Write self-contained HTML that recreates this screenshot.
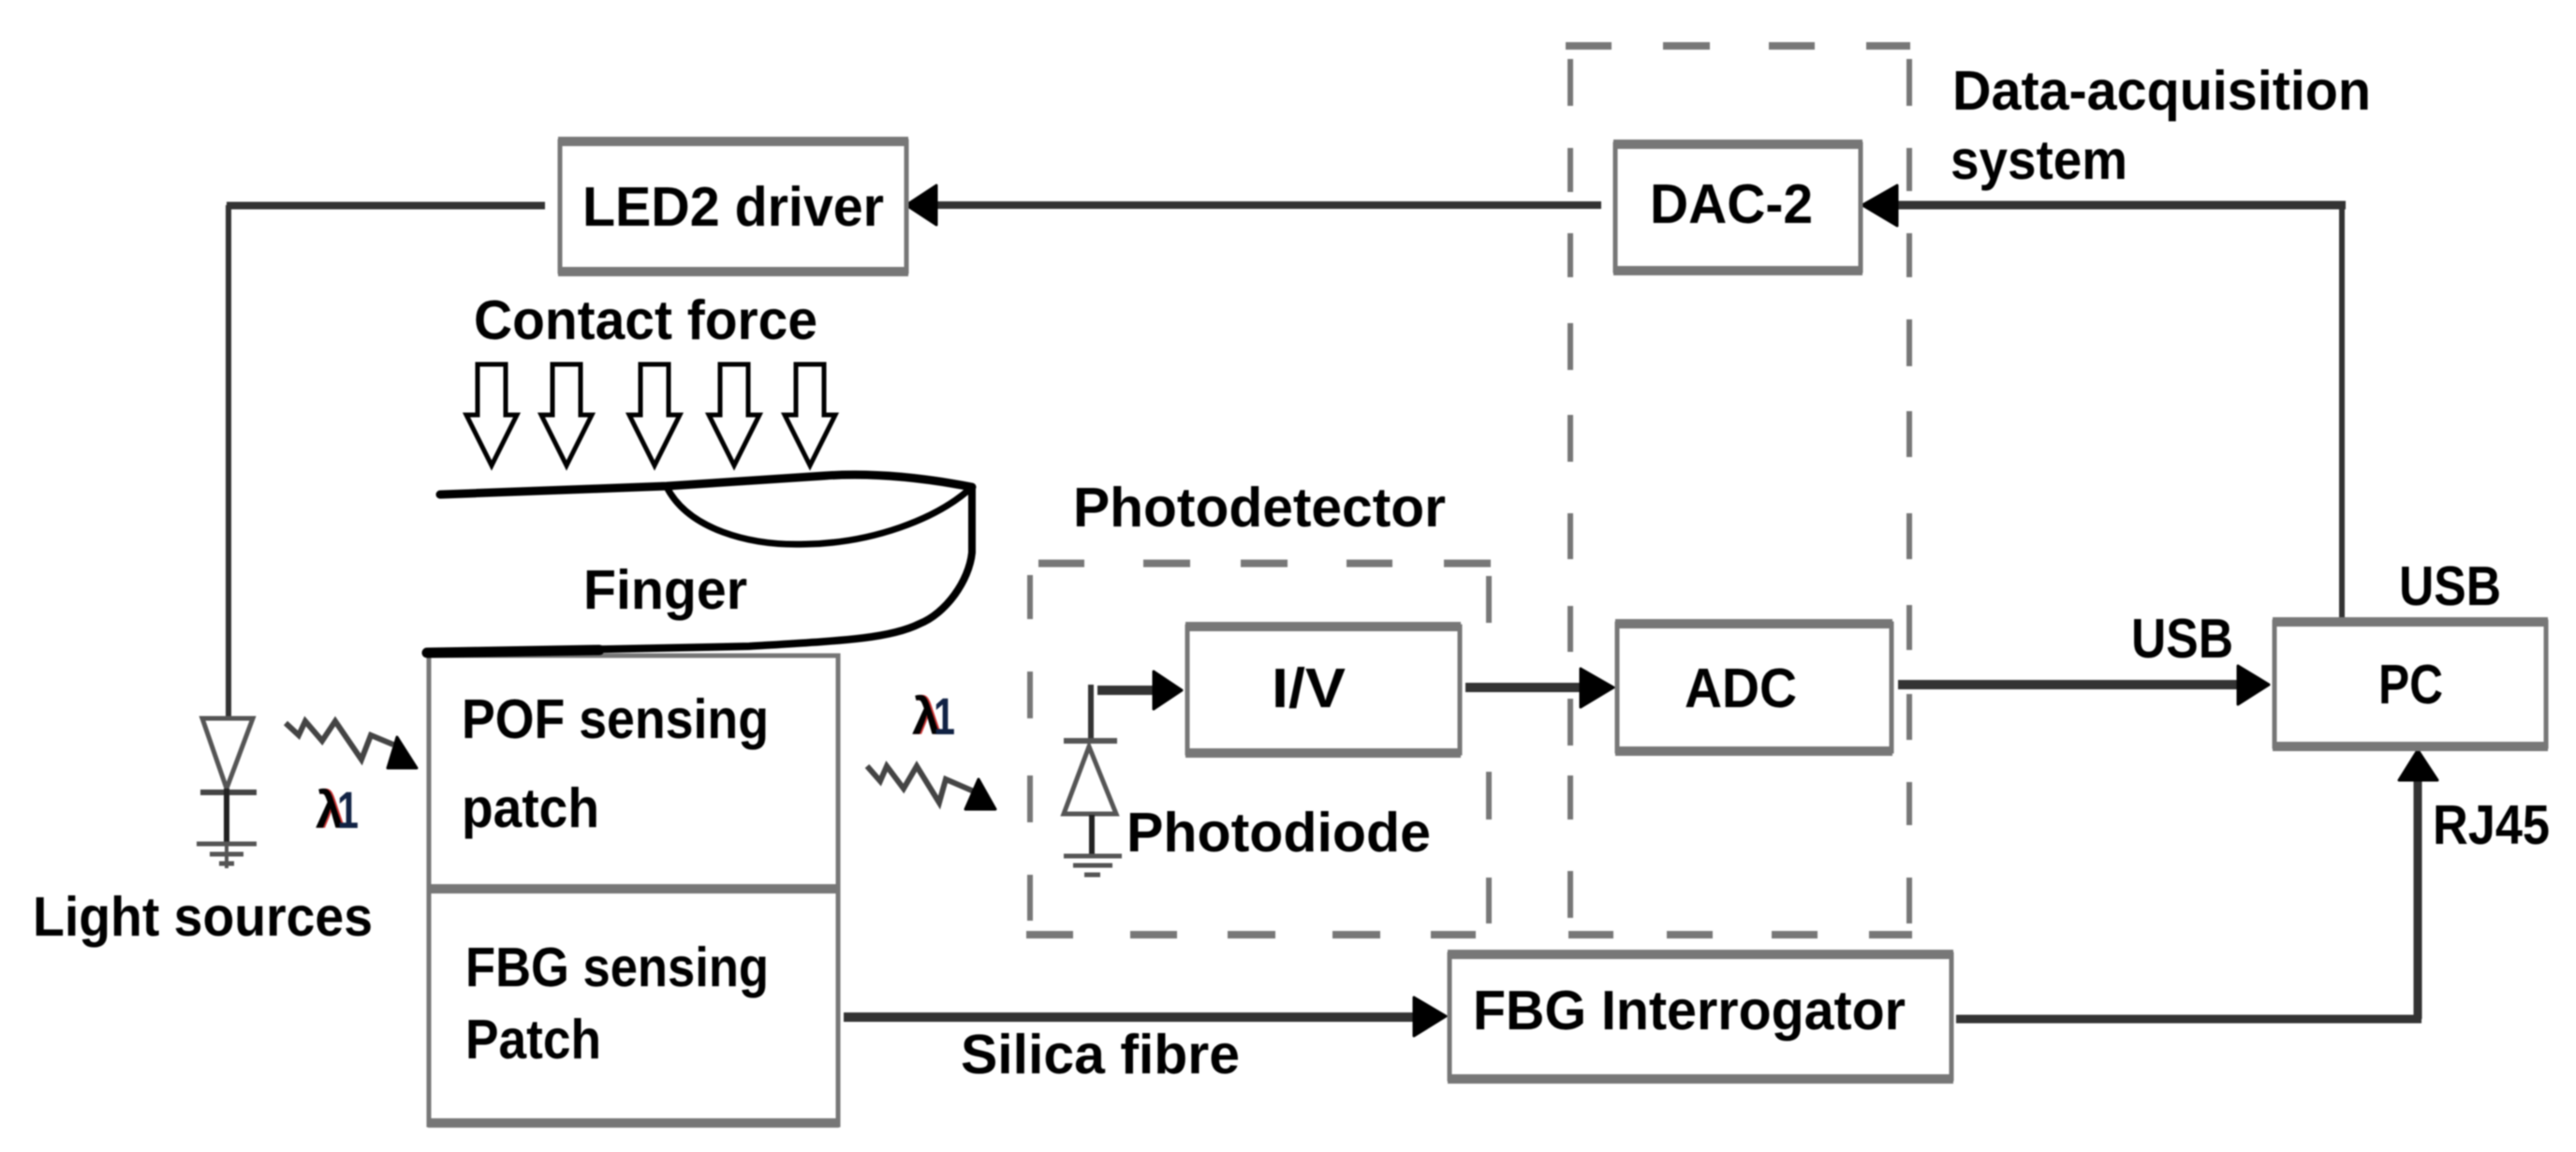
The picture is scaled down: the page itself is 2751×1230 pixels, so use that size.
<!DOCTYPE html>
<html><head><meta charset="utf-8">
<style>html,body{margin:0;padding:0;background:#fff}svg{display:block;filter:blur(.8px)}
text{font-family:"Liberation Sans",sans-serif;font-weight:700;font-size:59px;fill:#000}
.box{fill:#fff;stroke:#777;stroke-width:5}
.h{stroke:#777;stroke-width:10;fill:none}
.d{stroke:#777;fill:none}
.l{stroke:#333;fill:none}
.k{stroke:#000;fill:none}
.a{fill:#000;stroke:#000;stroke-width:3;stroke-linejoin:round}
</style></head><body>
<svg xmlns="http://www.w3.org/2000/svg" width="2751" height="1230" viewBox="0 0 2751 1230">
<rect width="2751" height="1230" fill="#fff"/>
<!-- dashed outer -->
<g class="d" stroke-width="8">
<path d="M1672 49H1721M1776 49H1826M1889 49H1938M1993 49H2040"/>
<path d="M1675 998H1723M1780 998H1829M1892 998H1941M1996 998H2042"/>
<path d="M1109 601.500H1158M1221 601.500H1271M1325 601.500H1375M1438 601.500H1487M1542 601.500H1592"/>
<path d="M1096 998H1146M1207 998H1257M1311 998H1362M1423 998H1474M1528 998H1576"/>
</g>
<g class="d" stroke-width="6">
<path d="M1677 63V113M1677 158V205M1677 249V296M1677 345V395M1677 443V493M1677 548V597M1677 647V696M1677 746V796M1677 828V875M1677 930V980"/>
<path d="M2039 63V113M2039 158V204M2039 249V296M2039 341V391M2039 439V488M2039 548V597M2039 646V694M2039 741V790M2039 835V881M2039 937V986"/>
<path d="M1100 614V661M1100 717V767M1100 828V878M1100 934V983"/>
<path d="M1590 615V665M1590 824V875M1590 937V986"/>
</g>
<!-- connectors -->
<g class="l">
<path d="M242 219.500H582" stroke-width="8"/>
<path d="M244 219V766" stroke-width="6"/>
<path d="M1000 219H1710" stroke-width="8"/>
<path d="M2026 219H2505" stroke-width="9"/>
<path d="M2501 219V662" stroke-width="6"/>
<path d="M1565 734H1690" stroke-width="10"/>
<path d="M2027 731H2395" stroke-width="10"/>
<path d="M901 1086H1515" stroke-width="10"/>
<path d="M2089 1088H2586" stroke-width="9"/>
<path d="M2582 1088V830" stroke-width="9"/>
<path d="M1165 792V731" stroke-width="6"/>
<path d="M1172 737H1235" stroke-width="10"/>
</g>
<g class="a">
<path d="M968 219L1000 198V240Z"/>
<path d="M1989 219L2026 198V241Z"/>
<path d="M1262 737L1232 717V757Z"/>
<path d="M1723 734L1688 714V755Z"/>
<path d="M2423 731L2390 711V752Z"/>
<path d="M1544 1085L1510 1065V1106Z"/>
<path d="M2582 801L2562 833H2603Z"/>
</g>
<!-- boxes -->
<rect class="box" x="598" y="151" width="370" height="139"/>
<rect class="box" x="1725" y="154" width="262" height="135"/>
<rect class="box" x="1268" y="669" width="291" height="135"/>
<rect class="box" x="1727" y="666" width="293" height="136"/>
<rect class="box" x="2429" y="664" width="290" height="133"/>
<rect class="box" x="1548" y="1019" width="536" height="133"/>
<rect class="box" x="458" y="700" width="437" height="250"/>
<rect class="box" x="458" y="950" width="437" height="251"/>
<path class="h" d="M596 151H970M596 290H970M1723 154H1989M1723 289H1989M1266 669H1560M1266 804H1560M1725 666H2021M1725 802H2021M2427 664H2721M2427 797H2721M1546 1019H2086M1546 1152H2086M457 949H896M457 1199H896" />
<!-- hollow arrows -->
<g fill="#fff" stroke="#000" stroke-width="5">
<path d="M510 389H540V443H552L525 497L498 443H510Z"/>
<path d="M590 389H620V443H632L605 497L578 443H590Z"/>
<path d="M684 389H714V443H726L699 497L672 443H684Z"/>
<path d="M769 389H799V443H811L784 497L757 443H769Z"/>
<path d="M850 389H880V443H892L865 497L838 443H850Z"/>
</g>
<!-- finger -->
<g class="k" stroke-linecap="round">
<path d="M470 528L712 519L880 508Q950 503 1038 520" stroke-width="9"/>
<path d="M712 520C735 565 800 583 860 581C930 580 1000 555 1038 520" stroke-width="7"/>
<path d="M1038 520V590C1035 620 1010 655 982 666C950 682 900 684 800 690L456 697" stroke-width="8"/>
<path d="M456 697L640 694" stroke-width="11"/>
</g>
<!-- LED -->
<g class="l" stroke-width="5">
<path d="M216 767H270L242 842Z" stroke="#555"/>
<path d="M214 846H274" stroke-width="6" stroke="#444"/>
<path d="M242 842V902" stroke-width="6" stroke="#222"/>
<path d="M210 901H274M224 912H260M234 922H250" stroke="#555" stroke-width="5"/>
<path d="M242 902V927" stroke="#555" stroke-width="4"/>
</g>
<!-- Photodiode -->
<g class="l" stroke-width="5">
<path d="M1163 797L1192 869H1136Z" stroke="#555"/>
<path d="M1136 791H1193" stroke="#555" stroke-width="6"/>
<path d="M1166 870V914" stroke="#222" stroke-width="6"/>
<path d="M1136 914H1198M1146 924H1188M1158 934H1175" stroke="#555"/>
</g>
<!-- wavy arrows -->
<path d="M305 772L319 785L326 770L344 791L358 770L386 811L396 785L420 795" fill="none" stroke="#444" stroke-width="6"/>
<path d="M445 820H414L424 787Z" class="a"/>
<path d="M926 818L940 834L947 818L965 842L979 818L1003 857L1010 832L1040 845" fill="none" stroke="#444" stroke-width="6"/>
<path d="M1063 864H1031L1045 832Z" class="a"/>
<!-- lambda -->
<text x="339" y="884" textLength="30" lengthAdjust="spacingAndGlyphs" style="font-size:56px;fill:#c33">λ</text>
<text x="337" y="884" textLength="30" lengthAdjust="spacingAndGlyphs" style="font-size:56px">λ</text>
<text x="360" y="884" textLength="23" lengthAdjust="spacingAndGlyphs" style="font-size:56px;fill:#124">1</text>
<text x="976" y="784" textLength="30" lengthAdjust="spacingAndGlyphs" style="font-size:56px;fill:#c33">λ</text>
<text x="974" y="784" textLength="30" lengthAdjust="spacingAndGlyphs" style="font-size:56px">λ</text>
<text x="997" y="784" textLength="23" lengthAdjust="spacingAndGlyphs" style="font-size:56px;fill:#124">1</text>
<!-- labels -->
<text x="622" y="241" textLength="322" lengthAdjust="spacingAndGlyphs">LED2 driver</text>
<text x="506" y="362" textLength="367" lengthAdjust="spacingAndGlyphs">Contact force</text>
<text x="623" y="650" textLength="175" lengthAdjust="spacingAndGlyphs">Finger</text>
<text x="493" y="788" textLength="328" lengthAdjust="spacingAndGlyphs">POF sensing</text>
<text x="493" y="883" textLength="147" lengthAdjust="spacingAndGlyphs">patch</text>
<text x="497" y="1053" textLength="324" lengthAdjust="spacingAndGlyphs">FBG sensing</text>
<text x="497" y="1130" textLength="145" lengthAdjust="spacingAndGlyphs">Patch</text>
<text x="35" y="999" textLength="363" lengthAdjust="spacingAndGlyphs">Light sources</text>
<text x="1146" y="562" textLength="398" lengthAdjust="spacingAndGlyphs">Photodetector</text>
<text x="1358" y="755" textLength="79" lengthAdjust="spacingAndGlyphs">I/V</text>
<text x="1203" y="909" textLength="325" lengthAdjust="spacingAndGlyphs">Photodiode</text>
<text x="1799" y="755" textLength="120" lengthAdjust="spacingAndGlyphs">ADC</text>
<text x="1762" y="238" textLength="174" lengthAdjust="spacingAndGlyphs">DAC-2</text>
<text x="2085" y="117" textLength="447" lengthAdjust="spacingAndGlyphs">Data-acquisition</text>
<text x="2083" y="191" textLength="189" lengthAdjust="spacingAndGlyphs">system</text>
<text x="2540" y="751" textLength="69" lengthAdjust="spacingAndGlyphs">PC</text>
<text x="2562" y="646" textLength="109" lengthAdjust="spacingAndGlyphs">USB</text>
<text x="2276" y="702" textLength="109" lengthAdjust="spacingAndGlyphs">USB</text>
<text x="2598" y="901" textLength="125" lengthAdjust="spacingAndGlyphs">RJ45</text>
<text x="1573" y="1099" textLength="462" lengthAdjust="spacingAndGlyphs">FBG Interrogator</text>
<text x="1026" y="1146" textLength="298" lengthAdjust="spacingAndGlyphs">Silica fibre</text>
</svg>
</body></html>
